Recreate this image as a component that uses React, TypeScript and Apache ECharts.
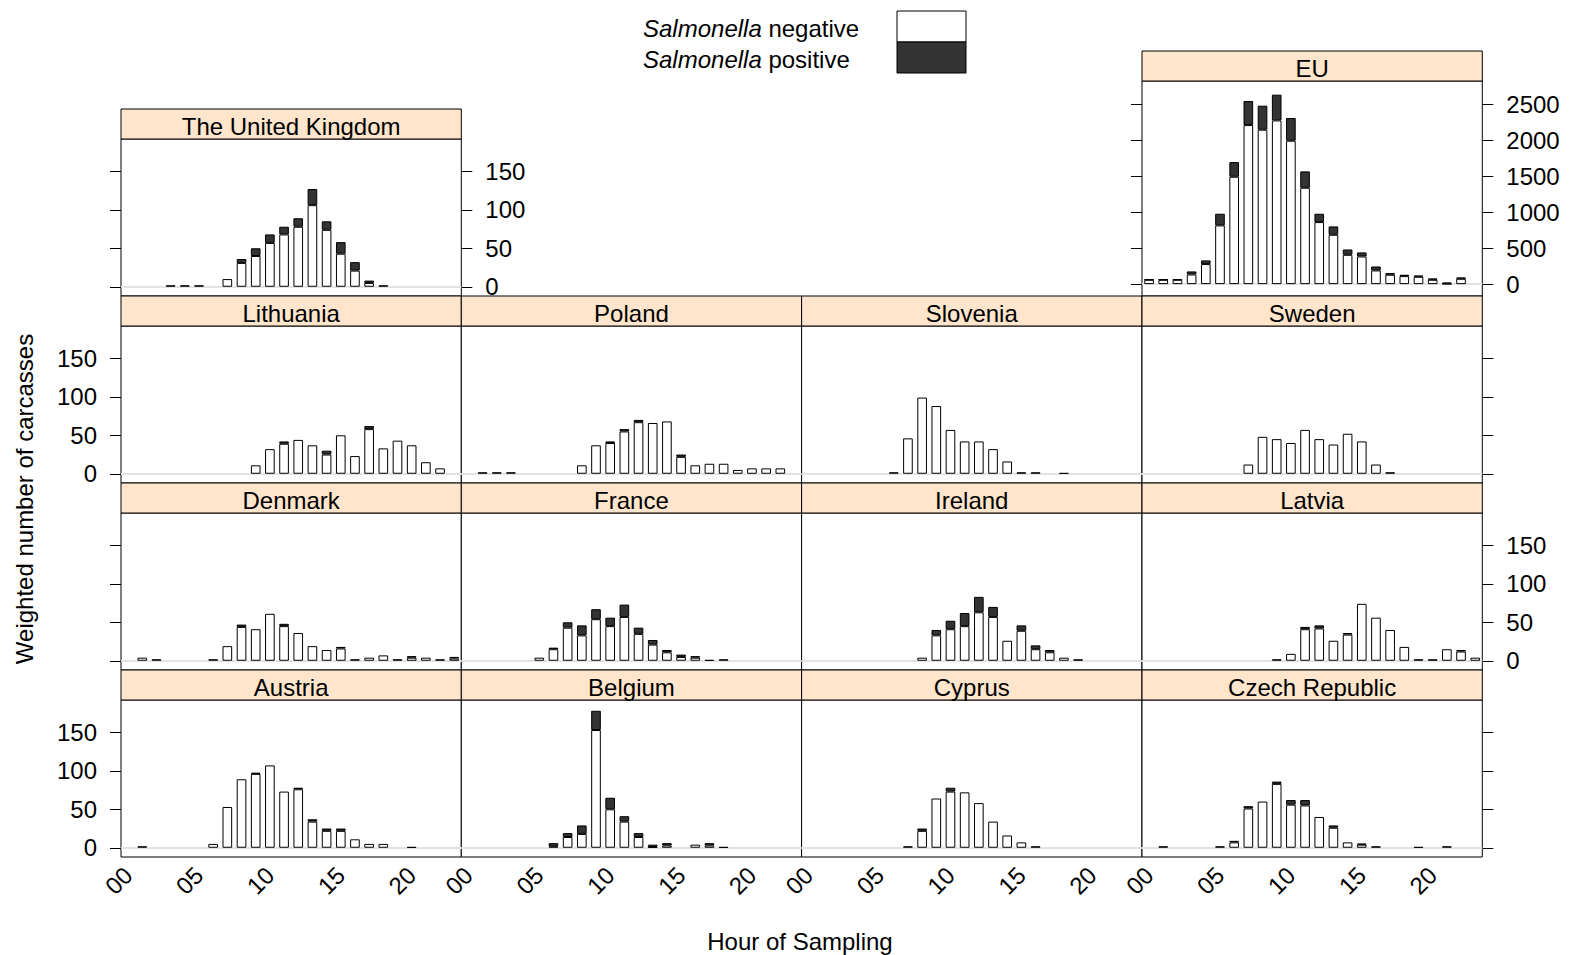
import React, { useEffect, useRef } from 'react';
import * as echarts from 'echarts';

// Hour of sampling categories (00..23)
const HOURS = ['00', '01', '02', '03', '04', '05', '06', '07', '08', '09', '10', '11',
  '12', '13', '14', '15', '16', '17', '18', '19', '20', '21', '22', '23'];

// Weighted number of carcasses per hour, Salmonella negative / positive
const ukNeg = [null, null, null, 2, 2, 2, null, 10, 31, 40, 57, 68, 78, 106, 74, 43, 21, 5, 2, null, null, null, null, null];
const ukPos = [null, null, null, null, null, null, null, null, 5, 10, 11, 10, 11, 21, 11, 15, 11, 3, null, null, null, null, null, null];

const euNeg = [60, 60, 60, 134, 278, 815, 1491, 2208, 2144, 2273, 1991, 1338, 861, 685, 407, 384, 190, 130, 111, 102, 60, 5, 74, null];
const euPos = [5, 5, 5, 42, 51, 162, 203, 334, 333, 357, 315, 227, 116, 116, 74, 56, 55, 23, 19, 18, 19, 18, 19, null];

const lithuaniaNeg = [null, null, null, null, null, null, null, null, null, 11, 32, 39, 44, 37, 25, 50, 23, 58, 33, 43, 37, 15, 7, null];
const lithuaniaPos = [null, null, null, null, null, null, null, null, null, null, null, 3, null, null, 5, null, null, 4, null, null, null, null, null, null];

const polandNeg = [null, 2, 2, 2, null, null, null, null, 11, 37, 40, 55, 67, 66, 68, 22, 11, 13, 13, 5, 7, 7, 7, null];
const polandPos = [null, null, null, null, null, null, null, null, null, null, 2, 3, 3, null, null, 3, null, null, null, null, null, null, null, null];

const sloveniaNeg = [null, null, null, null, null, null, 2, 46, 99, 88, 57, 42, 42, 32, 16, 2, 2, null, 1, null, null, null, null, null];
const sloveniaPos = [null, null, null, null, null, null, null, null, null, null, null, null, null, null, null, null, null, null, null, null, null, null, null, null];

const swedenNeg = [null, null, null, null, null, null, null, 12, 48, 45, 40, 57, 45, 38, 52, 42, 12, 2, null, null, null, null, null, null];
const swedenPos = [null, null, null, null, null, null, null, null, null, null, null, null, null, null, null, null, null, null, null, null, null, null, null, null];

const denmarkNeg = [null, 4, 2, null, null, null, 2, 19, 44, 41, 61, 45, 36, 19, 14, 16, 2, 4, 7, 2, 4, 4, 2, 3];
const denmarkPos = [null, null, null, null, null, null, null, null, 3, null, null, 3, null, null, null, 2, null, null, null, null, 2, null, null, 2];

const franceNeg = [null, null, null, null, null, 4, 15, 43, 33, 54, 45, 57, 35, 21, 11, 5, 4, 1, 2, null, null, null, null, null];
const francePos = [null, null, null, null, null, null, 2, 7, 13, 13, 11, 16, 8, 6, 3, 3, 2, null, null, null, null, null, null, null];

const irelandNeg = [null, null, null, null, null, null, null, null, 4, 33, 41, 45, 63, 57, 26, 39, 15, 11, 4, 2, null, null, null, null];
const irelandPos = [null, null, null, null, null, null, null, null, null, 7, 11, 17, 20, 13, null, 7, 5, 3, null, null, null, null, null, null];

const latviaNeg = [null, null, null, null, null, null, null, null, null, 2, 9, 41, 42, 26, 34, 74, 56, 40, 18, 2, 2, 15, 12, 4];
const latviaPos = [null, null, null, null, null, null, null, null, null, null, null, 3, 4, null, 2, null, null, null, null, null, null, null, 2, null];

const austriaNeg = [null, 2, null, null, null, null, 5, 53, 89, 96, 107, 73, 76, 34, 22, 22, 11, 5, 5, null, 1, null, null, null];
const austriaPos = [null, null, null, null, null, null, null, null, null, 1.5, null, null, 2, 3, 3, 3, null, null, null, null, null, null, null, null];

const belgiumNeg = [null, null, null, null, null, null, 2, 14, 18, 153, 50, 34, 14, 1, 3, null, 4, 3, 1, null, null, null, null, null];
const belgiumPos = [null, null, null, null, null, null, 4, 5, 11, 25, 15, 7, 5, 3, 3, null, null, 3, null, null, null, null, null, null];

const cyprusNeg = [null, null, null, null, null, null, null, 2, 22, 64, 73, 72, 58, 34, 16, 7, 2, null, null, null, null, null, null, null];
const cyprusPos = [null, null, null, null, null, null, null, null, 3, null, 5, null, null, null, null, null, null, null, null, null, null, null, null, null];

const czechNeg = [null, 2, null, null, null, 2, 7, 51, 60, 83, 56, 55, 40, 26, 7, 4, 2, null, null, 1, null, 2, null, null];
const czechPos = [null, null, null, null, null, null, 2, 3, null, 3, 6, 7, null, 3, null, 1.5, null, null, null, null, null, null, null, null];

// Y tick values for the two scales used
const countryTicks = [0, 50, 100, 150];
const euTicks = [0, 500, 1000, 1500, 2000, 2500];

const FONT = '"Liberation Sans", Arial, Helvetica, sans-serif';
const NEG_COLOR = '#ffffff';
const POS_COLOR = '#333333';
const STRIP_COLOR = '#ffe5cc';

// Panel layout (lattice-style grid)
const COL_LEFT = [121, 461.3, 801.6, 1142];
const COL_W = 340.3;
const STRIP_H = 30;

type AxisMode = 'none' | 'ticks' | 'labels';
interface Panel {
  name: string; neg: (number | null)[]; pos: (number | null)[];
  col: number; top: number; height: number; eu?: boolean;
  left: AxisMode; right: AxisMode; bottom?: boolean;
}

const PANELS: Panel[] = [
  { name: 'The United Kingdom', neg: ukNeg, pos: ukPos, col: 0, top: 139, height: 157, left: 'ticks', right: 'labels' },
  { name: 'EU', neg: euNeg, pos: euPos, col: 3, top: 81, height: 215, eu: true, left: 'ticks', right: 'labels' },
  { name: 'Lithuania', neg: lithuaniaNeg, pos: lithuaniaPos, col: 0, top: 326, height: 157, left: 'labels', right: 'none' },
  { name: 'Poland', neg: polandNeg, pos: polandPos, col: 1, top: 326, height: 157, left: 'none', right: 'none' },
  { name: 'Slovenia', neg: sloveniaNeg, pos: sloveniaPos, col: 2, top: 326, height: 157, left: 'none', right: 'none' },
  { name: 'Sweden', neg: swedenNeg, pos: swedenPos, col: 3, top: 326, height: 157, left: 'none', right: 'ticks' },
  { name: 'Denmark', neg: denmarkNeg, pos: denmarkPos, col: 0, top: 513, height: 157, left: 'ticks', right: 'none' },
  { name: 'France', neg: franceNeg, pos: francePos, col: 1, top: 513, height: 157, left: 'none', right: 'none' },
  { name: 'Ireland', neg: irelandNeg, pos: irelandPos, col: 2, top: 513, height: 157, left: 'none', right: 'none' },
  { name: 'Latvia', neg: latviaNeg, pos: latviaPos, col: 3, top: 513, height: 157, left: 'none', right: 'labels' },
  { name: 'Austria', neg: austriaNeg, pos: austriaPos, col: 0, top: 700, height: 157, left: 'labels', right: 'none', bottom: true },
  { name: 'Belgium', neg: belgiumNeg, pos: belgiumPos, col: 1, top: 700, height: 157, left: 'none', right: 'none', bottom: true },
  { name: 'Cyprus', neg: cyprusNeg, pos: cyprusPos, col: 2, top: 700, height: 157, left: 'none', right: 'none', bottom: true },
  { name: 'Czech Republic', neg: czechNeg, pos: czechPos, col: 3, top: 700, height: 157, left: 'none', right: 'ticks', bottom: true },
];

function buildOption() {
  const grid: any[] = [];
  const xAxis: any[] = [];
  const yAxis: any[] = [];
  const series: any[] = [];
  const graphic: any[] = [];

  PANELS.forEach((p, i) => {
    const left = COL_LEFT[p.col];
    grid.push({
      left, top: p.top, width: COL_W, height: p.height,
      show: true, borderColor: '#000', borderWidth: 1, backgroundColor: '#fff',
    });

    xAxis.push({
      type: 'category', gridIndex: i, data: HOURS, boundaryGap: true,
      axisLine: { show: false }, axisTick: { show: false }, splitLine: { show: false },
      axisLabel: p.bottom
        ? { show: true, interval: 4, rotate: 45, fontSize: 24, fontFamily: FONT, color: '#000', margin: 14 }
        : { show: false },
    });

    const ticks = p.eu ? euTicks : countryTicks;
    const min = p.eu ? -165 : -12;
    const max = p.eu ? 2820 : 192;
    const makeY = (position: 'left' | 'right', mode: AxisMode) => ({
      type: 'value', gridIndex: i, min, max, position,
      axisLine: { show: false }, splitLine: { show: false },
      axisTick: {
        show: mode !== 'none', length: 11, inside: false, customValues: ticks,
        lineStyle: { color: '#000', width: 1 },
      },
      axisLabel: {
        show: mode === 'labels', customValues: ticks, fontSize: 24, fontFamily: FONT,
        color: '#000', margin: 24, formatter: (v: number) => String(v),
      },
    });

    const primaryPos: 'left' | 'right' = p.left !== 'none' ? 'left' : (p.right !== 'none' ? 'right' : 'left');
    const primaryMode: AxisMode = p.left !== 'none' ? p.left : p.right;
    const yIdx = yAxis.length;
    yAxis.push(makeY(primaryPos, primaryMode));
    if (p.left !== 'none' && p.right !== 'none') {
      yAxis.push(makeY('right', p.right));
    }

    series.push({
      type: 'bar', name: 'Salmonella negative', xAxisIndex: i, yAxisIndex: yIdx,
      stack: 'panel' + i, data: p.neg, barWidth: '68%', silent: true,
      itemStyle: { color: NEG_COLOR, borderColor: '#000', borderWidth: 1 },
      markLine: {
        silent: true, symbol: ['none', 'none'], z: 1,
        label: { show: false },
        lineStyle: { color: '#e3e3e3', width: 2, type: 'solid' },
        data: [{ yAxis: 0 }],
      },
    });
    series.push({
      type: 'bar', name: 'Salmonella positive', xAxisIndex: i, yAxisIndex: yIdx,
      stack: 'panel' + i, data: p.pos, barWidth: '68%', silent: true,
      itemStyle: { color: POS_COLOR, borderColor: '#000', borderWidth: 1 },
    });

    // Strip with panel title
    graphic.push({
      type: 'rect', silent: true,
      shape: { x: left, y: p.top - STRIP_H, width: COL_W, height: STRIP_H },
      style: { fill: STRIP_COLOR, stroke: '#000', lineWidth: 1 },
    });
    graphic.push({
      type: 'text', silent: true, x: left + COL_W / 2, y: p.top - STRIP_H / 2 + 2,
      style: {
        text: p.name, fontSize: 24, fontFamily: FONT, fill: '#000',
        align: 'center', verticalAlign: 'middle',
      },
    });
  });

  // Legend
  graphic.push({
    type: 'text', silent: true, x: 643, y: 28,
    style: {
      text: '{i|Salmonella} negative', fontSize: 24, fontFamily: FONT, fill: '#000',
      align: 'left', verticalAlign: 'middle',
      rich: { i: { fontStyle: 'italic', fontSize: 24, fontFamily: FONT, fill: '#000' } },
    },
  });
  graphic.push({
    type: 'text', silent: true, x: 643, y: 59,
    style: {
      text: '{i|Salmonella} positive', fontSize: 24, fontFamily: FONT, fill: '#000',
      align: 'left', verticalAlign: 'middle',
      rich: { i: { fontStyle: 'italic', fontSize: 24, fontFamily: FONT, fill: '#000' } },
    },
  });
  graphic.push({
    type: 'rect', silent: true, shape: { x: 897, y: 11, width: 69, height: 31 },
    style: { fill: NEG_COLOR, stroke: '#000', lineWidth: 1 },
  });
  graphic.push({
    type: 'rect', silent: true, shape: { x: 897, y: 42, width: 69, height: 31 },
    style: { fill: POS_COLOR, stroke: '#000', lineWidth: 1 },
  });

  // Axis titles
  graphic.push({
    type: 'text', silent: true, x: 24, y: 499, rotation: Math.PI / 2,
    style: {
      text: 'Weighted number of carcasses', fontSize: 24, fontFamily: FONT, fill: '#000',
      align: 'center', verticalAlign: 'middle',
    },
  });
  graphic.push({
    type: 'text', silent: true, x: 800, y: 941,
    style: {
      text: 'Hour of Sampling', fontSize: 24, fontFamily: FONT, fill: '#000',
      align: 'center', verticalAlign: 'middle',
    },
  });

  return {
    animation: false,
    backgroundColor: '#fff',
    textStyle: { fontFamily: FONT },
    grid, xAxis, yAxis, series, graphic,
  };
}

export default function App() {
  const ref = useRef<HTMLDivElement>(null);
  useEffect(() => {
    if (!ref.current) return;
    const chart = echarts.init(ref.current, undefined, { renderer: 'svg' });
    chart.setOption(buildOption() as any);
    return () => chart.dispose();
  }, []);
  return (
    <div
      ref={ref}
      style={{ position: 'absolute', left: 0, top: 0, width: 1570, height: 955, background: '#fff' }}
    />
  );
}
